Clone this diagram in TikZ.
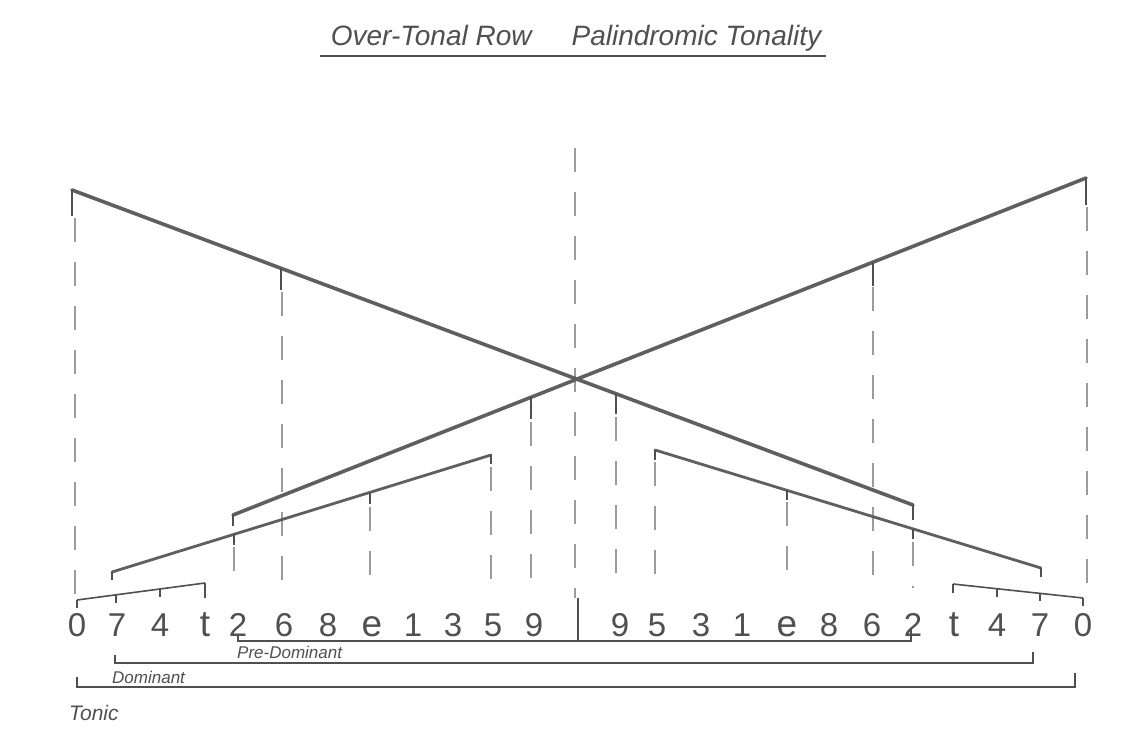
\documentclass[tikz,border=0pt]{standalone}
\usepackage{fontspec}
\setmainfont{Liberation Sans}
\definecolor{pencil}{RGB}{95,95,95}
\definecolor{pencilfine}{RGB}{155,155,155}
\definecolor{ink}{RGB}{80,80,80}
\begin{document}
\begin{tikzpicture}[x=1pt,y=-1pt,
  bigline/.style={draw=pencil,line width=3.6pt,line cap=round},
  midline/.style={draw=pencil,line width=2.8pt,line cap=round},
  bracketline/.style={draw=ink,line width=1.6pt},
  tickline/.style={draw=ink,line width=1.6pt},
  guide/.style={draw=pencilfine,line width=1.1pt,dash pattern=on 24pt off 20pt},
  dig/.style={text=ink,font=\fontsize{33}{33}\selectfont,inner sep=0pt,anchor=base},
  ldig/.style={dig,font=\fontsize{37}{37}\selectfont},
  lbl/.style={text=ink,font=\itshape\fontsize{17}{17}\selectfont,inner sep=0pt,anchor=west},
]
\useasboundingbox[fill=white] (0,0) rectangle (1141,734);

% title
\node[text=ink,font=\itshape\fontsize{28}{28}\selectfont,inner sep=0pt] (title) at (576,38) {Over-Tonal Row\hspace{40pt}Palindromic Tonality};
\coordinate (ul1) at (320,56); \coordinate (ul2) at (826,56);
\draw[draw=ink,line width=1.3pt] (ul1) -- (ul2);

% digits
\node[dig] (l0) at (77,636) {0};
\node[dig] (l7) at (117,636) {7};
\node[dig] (l4) at (160,636) {4};
\node[ldig] (lt) at (205,636) {t};
\node[dig] (l2) at (238,636) {2};
\node[dig] (l6) at (284,636) {6};
\node[dig] (l8) at (328,636) {8};
\node[ldig] (le) at (372,636) {e};
\node[dig] (l1) at (413,636) {1};
\node[dig] (l3) at (453,636) {3};
\node[dig] (l5) at (493,636) {5};
\node[dig] (l9) at (534,636) {9};
\node[dig] (r9) at (620,636) {9};
\node[dig] (r5) at (657,636) {5};
\node[dig] (r3) at (701,636) {3};
\node[dig] (r1) at (742,636) {1};
\node[ldig] (re) at (787,636) {e};
\node[dig] (r8) at (829,636) {8};
\node[dig] (r6) at (872,636) {6};
\node[dig] (r2) at (913,636) {2};
\node[ldig] (rt) at (954,636) {t};
\node[dig] (r4) at (997,636) {4};
\node[dig] (r7) at (1040,636) {7};
\node[dig] (r0) at (1083,636) {0};

% dashed guides
\draw[guide] (75,218) -- (75,596);
\draw[guide] (282,292) -- (282,582);
\draw[guide] (531,422) -- (531,580);
\draw[guide] (575,148) -- (575,598);
\draw[guide] (616,417) -- (616,580);
\draw[guide] (873,287) -- (873,582);
\draw[guide] (1087,207) -- (1087,596);
\draw[guide] (234,547) -- (234,588);
\draw[guide] (370,507) -- (370,588);
\draw[guide] (491,467) -- (491,588);
\draw[guide] (655,462) -- (655,588);
\draw[guide] (787,502) -- (787,588);
\draw[guide] (913,542) -- (913,588);

% big X
\coordinate (A1) at (72,190); \coordinate (A2) at (913,505);
\coordinate (B1) at (233,515); \coordinate (B2) at (1086,178);
\draw[bigline] (A1) -- (A2);
\draw[bigline] (B1) -- (B2);
\draw[tickline,line width=2.6pt] (A1) -- (72,216);
\draw[tickline] (281,268) -- (281,290);
\draw[tickline] (616,394) -- (616,414);
\draw[tickline,line width=2.2pt] (A2) -- (913,520);
\draw[tickline,line width=2.4pt] (B1) -- (233,526);
\draw[tickline] (531,397) -- (531,419);
\draw[tickline] (873,262) -- (873,286);
\draw[tickline,line width=2.6pt] (B2) -- (1086,205);

% lower pair
\coordinate (C1) at (112,572); \coordinate (C2) at (491,455);
\coordinate (D1) at (655,450); \coordinate (D2) at (1041,568);
\draw[midline] (C1) -- (C2);
\draw[midline] (D1) -- (D2);
\draw[tickline,line width=2.2pt] (C1) -- (112,580);
\draw[tickline] (234,534) -- (234,545);
\draw[tickline] (370,493) -- (370,504);
\draw[tickline,line width=2.2pt] (C2) -- (491,464);
\draw[tickline,line width=2pt] (D1) -- (655,460);
\draw[tickline] (787,490) -- (787,500);
\draw[tickline] (913,529) -- (913,539);
\draw[tickline,line width=2pt] (D2) -- (1041,577);

% small brackets
\coordinate (E1) at (77,600); \coordinate (E2) at (205,583);
\draw[bracketline] (E1) -- (E2);
\draw[tickline] (E1) -- (77,608);
\draw[tickline] (116,595) -- (116,603);
\draw[tickline] (160,589) -- (160,597);
\draw[tickline,line width=2.4pt] (E2) -- (205,598);
\coordinate (F1) at (953,584); \coordinate (F2) at (1083,598);
\draw[bracketline] (F1) -- (F2);
\draw[tickline] (F1) -- (953,593);
\draw[tickline] (997,589) -- (997,597);
\draw[tickline] (1040,593) -- (1040,601);
\draw[tickline] (F2) -- (1083,606);

% centre line
\coordinate (M1) at (578,598); \coordinate (M2) at (578,640);
\draw[tickline] (M1) -- (M2);

% bottom brackets
\draw[bracketline] (238,635) -- (238,641) -- (911,641) -- (911,628);
\node[lbl] (pd) at (237,652) {Pre-Dominant};
\draw[bracketline,line width=2pt] (115,655) -- (115,663) -- (1033,663) -- (1033,652);
\node[lbl] (dom) at (112,677) {Dominant};
\draw[bracketline,line width=2.4pt] (77,677) -- (77,687) -- (1075,687) -- (1075,673);
\node[lbl,font=\itshape\fontsize{21}{21}\selectfont] (ton) at (69,713) {Tonic};
\end{tikzpicture}
\end{document}
